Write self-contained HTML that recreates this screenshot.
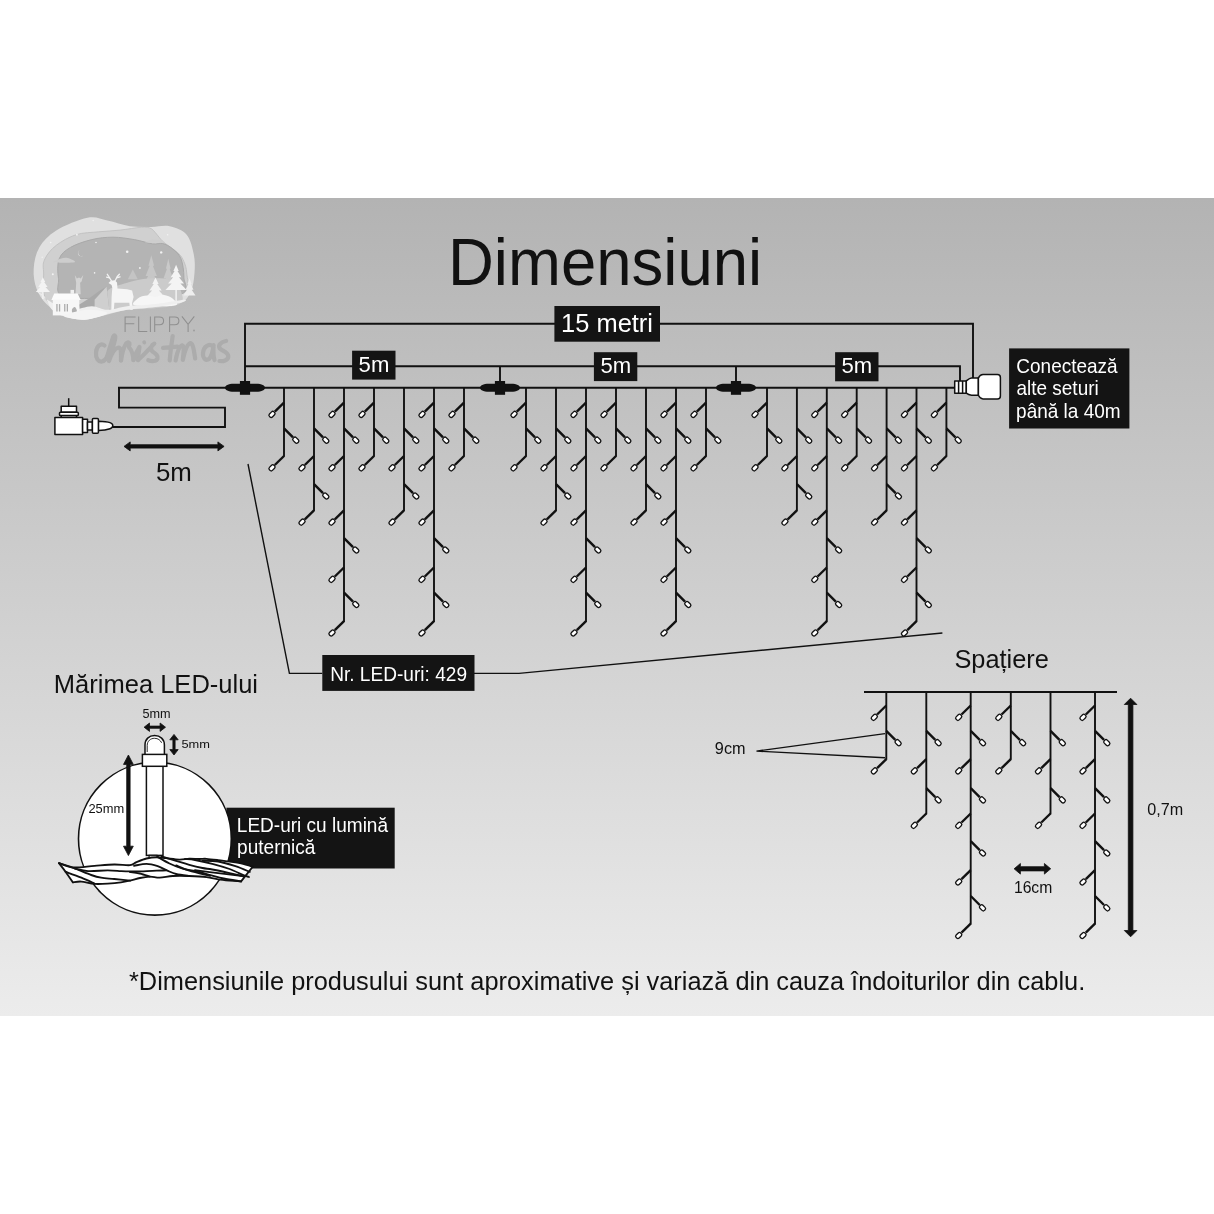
<!DOCTYPE html><html><head><meta charset="utf-8"><style>
html,body{margin:0;padding:0;background:#fff;width:1214px;height:1214px;overflow:hidden}
svg{position:absolute;left:0;top:0;display:block;will-change:transform}
text{font-family:"Liberation Sans", sans-serif}
.w{stroke:#111;stroke-width:1.9;fill:none}
.b{stroke:#111;stroke-width:2.4;fill:none}
.led{fill:#fff;stroke:#111;stroke-width:1.3}
.bx{fill:#141414}
.t{stroke:#111;stroke-width:1.4;fill:none}
</style></head><body>
<svg width="1214" height="1214" viewBox="0 0 1214 1214">
<defs><linearGradient id="bg" x1="0" y1="0" x2="0" y2="1"><stop offset="0" stop-color="#b3b3b3"/><stop offset="1" stop-color="#ececec"/></linearGradient></defs>
<rect x="0" y="198" width="1214" height="818" fill="url(#bg)"/>
<g id="logo">
<path d="M33.7 268.7 C34.1 261.8 35.6 253.8 39.3 247.4 C43.1 241.0 48.3 235.4 56.3 230.4 C64.4 225.5 79.0 219.3 87.5 217.7 C96.0 216.0 100.3 219.1 107.3 220.5 C114.4 221.9 122.7 225.1 130.0 226.2 C137.3 227.2 144.7 226.9 151.3 226.9 C157.9 226.9 163.8 224.9 169.7 226.2 C175.6 227.5 182.7 229.9 186.7 234.7 C190.7 239.4 192.5 248.1 193.8 254.5 C195.1 260.9 195.0 266.8 194.5 272.9 C194.0 279.1 193.2 286.4 190.9 291.3 C188.7 296.3 186.9 300.1 181.0 302.7 C175.1 305.3 164.5 305.7 155.5 306.9 C146.5 308.1 136.6 308.1 127.2 309.8 C117.7 311.4 106.4 315.2 98.8 316.8 C91.3 318.5 87.7 319.9 81.8 319.7 C75.9 319.4 69.3 318.0 63.4 315.4 C57.5 312.8 50.9 308.6 46.4 304.1 C41.9 299.6 38.6 294.4 36.5 288.5 C34.4 282.6 33.2 275.5 33.7 268.7 Z" fill="#e0e0e0" />
<path d="M43.6 271.9 C42.9 264.6 42.9 263.2 45.0 258.8 C47.1 254.3 51.1 249.3 56.3 245.3 C61.5 241.3 69.1 236.9 76.2 234.7 C83.3 232.4 91.5 232.6 98.8 231.8 C106.2 231.1 113.0 230.9 120.1 230.1 C127.2 229.4 136.2 227.5 141.3 227.3 C146.5 227.1 148.3 227.1 151.3 228.7 C154.2 230.4 156.9 234.9 159.1 237.2 C161.2 239.5 160.8 239.8 164.0 242.5 C167.2 245.1 174.9 249.9 178.2 253.1 C181.5 256.3 182.4 258.3 183.9 261.6 C185.3 264.9 186.4 268.0 186.7 272.9 C186.9 277.9 190.5 286.4 185.3 291.3 C180.1 296.3 169.9 299.6 155.5 302.7 C141.1 305.7 116.6 309.8 98.8 309.8 C81.1 309.8 58.5 309.0 49.3 302.7 C40.0 296.4 44.3 279.3 43.6 271.9 Z" fill="#d0d0d0" stroke="#c0c0c0" stroke-width="0.9"/>
<path d="M58.5 278.6 C57.5 272.2 57.2 264.0 59.2 258.8 C61.2 253.6 65.1 250.6 70.5 247.4 C75.9 244.2 84.7 241.3 91.8 239.6 C98.8 237.9 105.9 237.2 113.0 237.2 C120.1 237.2 127.7 238.5 134.3 239.6 C140.9 240.7 148.0 243.2 152.7 243.9 C157.4 244.5 159.3 242.6 162.6 243.5 C165.9 244.3 169.4 246.3 172.5 248.8 C175.6 251.4 179.1 254.0 181.0 258.8 C182.9 263.5 183.9 271.3 183.9 277.2 C183.9 283.1 190.5 290.9 181.0 294.2 C171.6 297.5 146.5 296.5 127.2 297.0 C107.8 297.5 76.3 300.1 64.8 297.0 C53.4 293.9 59.4 285.0 58.5 278.6 Z" fill="#b4b4b4" stroke="#a9a9a9" stroke-width="1"/>
<path d="M54.2 262.3 C51.9 261.7 58.3 259.5 60.6 258.8 C62.8 258.0 65.3 257.5 67.7 258.0 C70.0 258.6 77.0 261.6 74.8 262.3 C72.5 263.0 56.6 262.9 54.2 262.3 Z" fill="#cdcdcd" />
<path d="M145.6 242.5 C143.7 242.0 150.3 240.0 152.7 239.6 C155.0 239.3 157.9 239.9 159.8 240.3 C161.7 240.8 166.4 242.1 164.0 242.5 C161.7 242.8 147.5 242.9 145.6 242.5 Z" fill="#cdcdcd" />
<path d="M79.7 250.3 a3.2 3.2 0 1 0 3.6 5.2 a2.6 2.6 0 1 1 -3.6 -5.2 Z" fill="#e4e4e4"/>
<circle cx="127.2" cy="251.7" r="1.3" fill="#f2f2f2"/>
<circle cx="161.2" cy="252.4" r="1.2" fill="#f2f2f2"/>
<circle cx="96.0" cy="242.5" r="0.8" fill="#f2f2f2"/>
<circle cx="76.9" cy="234.7" r="0.9" fill="#f2f2f2"/>
<circle cx="50.7" cy="242.5" r="0.8" fill="#f2f2f2"/>
<circle cx="42.2" cy="257.3" r="0.7" fill="#f2f2f2"/>
<circle cx="52.8" cy="274.3" r="1.0" fill="#f2f2f2"/>
<circle cx="94.6" cy="272.9" r="0.8" fill="#f2f2f2"/>
<circle cx="139.9" cy="268.0" r="0.9" fill="#f2f2f2"/>
<circle cx="167.6" cy="234.7" r="0.8" fill="#f2f2f2"/>
<circle cx="93.2" cy="220.5" r="0.7" fill="#f2f2f2"/>
<path d="M132.8 269.4 L127.9 279.3 L137.8 279.3 Z" fill="#c4c4c4"/>
<path d="M151.3 255.2 L148.4 265.7 L149.7 265.7 L145.6 276.1 L148.1 276.1 L142.8 286.6 L146.6 286.6 L139.9 297.0 L162.6 297.0 L155.9 286.6 L159.8 286.6 L154.4 276.1 L156.9 276.1 L152.8 265.7 L154.1 265.7 Z" fill="#c7c7c7"/>
<path d="M168.3 258.8 L165.9 268.7 L167.0 268.7 L163.5 278.6 L165.7 278.6 L161.2 288.5 L175.4 288.5 L170.9 278.6 L173.0 278.6 L169.6 268.7 L170.6 268.7 Z" fill="#c9c9c9"/>
<path d="M107.3 291.3 C109.7 287.1 120.3 285.0 127.2 282.8 C134.0 280.7 141.3 279.1 148.4 278.6 C155.5 278.1 164.3 277.9 169.7 280.0 C175.1 282.1 180.1 287.1 181.0 291.3 C182.0 295.6 186.7 302.7 175.4 305.5 C164.0 308.3 124.3 310.7 113.0 308.3 C101.7 306.0 105.0 295.6 107.3 291.3 Z" fill="#cbcbcb" />
<path d="M74.8 275.0 L76.9 278.6 L79.0 277.5 L80.7 278.6 L83.3 275.0 L81.6 281.4 L80.1 282.8 L80.7 294.2 L75.5 294.2 L76.2 282.8 Z" fill="#d3d3d3"/>
<path d="M79.0 304.8 L88.9 298.4 L98.8 291.3 L106.6 286.4 L109.5 311.2 L80.4 311.2 Z" fill="#a9a9a9"/>
<path d="M94.6 299.8 L106.6 286.4 L109.5 311.2 L94.6 311.2 Z" fill="#cfcfcf"/>
<path d="M42.9 277.2 L40.5 282.1 L41.6 282.1 L38.2 287.1 L40.3 287.1 L35.8 292.1 L50.0 292.1 L45.5 287.1 L47.6 287.1 L44.2 282.1 L45.2 282.1 Z" fill="#f3f3f3"/><path d="M42.2 292.1 L43.6 292.1 L43.6 299.1 L42.2 299.1 Z" fill="#f3f3f3"/>
<path d="M155.5 277.5 L152.4 284.0 L153.8 284.0 L149.4 290.5 L152.1 290.5 L146.3 297.0 L164.7 297.0 L158.9 290.5 L161.7 290.5 L157.2 284.0 L158.6 284.0 Z" fill="#f3f3f3"/><path d="M154.8 297.0 L156.2 297.0 L156.2 302.7 L154.8 302.7 Z" fill="#f3f3f3"/>
<path d="M176.1 264.7 L173.4 271.0 L174.6 271.0 L170.7 277.3 L173.1 277.3 L168.1 283.6 L171.7 283.6 L165.4 289.9 L186.7 289.9 L180.4 283.6 L184.0 283.6 L179.0 277.3 L181.4 277.3 L177.5 271.0 L178.7 271.0 Z" fill="#f4f4f4"/><path d="M175.4 289.9 L176.8 289.9 L176.8 302.7 L175.4 302.7 Z" fill="#f4f4f4"/>
<path d="M189.5 278.3 L187.5 284.1 L188.4 284.1 L185.5 289.8 L187.3 289.8 L183.5 295.6 L195.5 295.6 L191.7 289.8 L193.5 289.8 L190.6 284.1 L191.5 284.1 Z" fill="#eeeeee"/>
<path d="M135.7 305.5 C129.5 304.3 135.9 300.1 137.8 298.4 C139.7 296.8 144.1 295.8 147.0 295.6 C150.0 295.4 152.7 297.1 155.5 297.0 C158.3 296.9 161.2 294.6 164.0 294.9 C166.8 295.1 170.7 296.7 172.5 298.4 C174.3 300.2 180.8 304.3 174.6 305.5 C168.5 306.7 141.8 306.7 135.7 305.5 Z" fill="#f6f6f6" />
<path d="M108.5 283.1 L110.9 280.7 L114.7 280.3 L117.0 282.6 L117.5 288.5 L127.2 289.2 L132.1 290.6 L133.6 297.0 L132.1 302.7 L132.8 309.8 L130.3 309.8 L129.3 302.7 L114.4 302.7 L113.7 311.2 L111.3 311.2 L111.6 297.0 L112.3 287.8 L111.6 285.0 Z" fill="#f5f5f5"/>
<path d="M111.6 281.1 L108.8 276.5 L107.3 274.3" fill="none" stroke="#f2f2f2" stroke-width="1.3" stroke-linecap="round"/>
<path d="M109.5 277.9 L106.6 277.2" fill="none" stroke="#f2f2f2" stroke-width="1.3" stroke-linecap="round"/>
<path d="M115.1 280.7 L117.3 276.5 L119.4 274.3" fill="none" stroke="#f2f2f2" stroke-width="1.3" stroke-linecap="round"/>
<path d="M117.5 277.5 L120.1 276.9" fill="none" stroke="#f2f2f2" stroke-width="1.3" stroke-linecap="round"/>
<path d="M36.5 291.3 C35.3 290.4 42.4 293.9 45.0 297.0 C47.6 300.1 49.0 306.6 52.1 309.8 C55.2 312.9 58.0 314.5 63.4 316.1 C68.9 317.8 77.4 320.0 84.7 319.7 C92.0 319.3 100.3 315.7 107.3 314.0 C114.4 312.4 119.1 310.9 127.2 309.8 C135.2 308.6 146.5 308.1 155.5 306.9 C164.5 305.7 176.3 303.9 181.0 302.7 C185.7 301.5 188.1 299.6 183.9 299.8 C179.6 300.1 165.0 303.0 155.5 304.1 C146.1 305.2 135.2 305.3 127.2 306.2 C119.1 307.2 113.2 309.8 107.3 309.8 C101.4 309.8 97.9 306.2 91.8 306.2 C85.6 306.2 77.1 310.4 70.5 309.8 C63.9 309.2 57.8 305.7 52.1 302.7 C46.4 299.6 37.7 292.3 36.5 291.3 Z" fill="#efefef" />
<path d="M51.4 300.1 L54.2 293.5 L77.6 293.5 L80.7 300.1 Z" fill="#fbfbfb"/>
<path d="M70.5 293.9 L70.5 289.9 L74.0 289.9 L74.0 293.9 Z" fill="#f0f0f0"/>
<path d="M52.8 299.8 L79.3 299.8 L79.3 315.4 L52.8 315.4 Z" fill="#f6f6f6"/>
<path d="M56.3 304.1 L57.6 304.1 L57.6 311.5 L56.3 311.5 Z" fill="#acacac"/>
<path d="M58.9 304.1 L60.2 304.1 L60.2 311.5 L58.9 311.5 Z" fill="#acacac"/>
<path d="M64.1 304.1 L65.4 304.1 L65.4 311.5 L64.1 311.5 Z" fill="#acacac"/>
<path d="M66.7 304.1 L68.0 304.1 L68.0 311.5 L66.7 311.5 Z" fill="#acacac"/>
<path d="M73.3 315.4 C72.5 315.2 71.7 311.2 71.9 309.8 C72.2 308.3 73.9 306.7 74.8 306.9 C75.6 307.2 77.1 309.8 76.9 311.2 C76.6 312.6 74.2 315.7 73.3 315.4 Z" fill="#b0b0b0" />
<path d="M63.4 316.1 C62.2 314.7 72.9 312.2 77.6 311.2 C82.3 310.1 86.8 309.4 91.8 309.8 C96.7 310.1 108.5 311.7 107.3 313.3 C106.2 315.0 92.0 319.2 84.7 319.7 C77.4 320.2 64.6 317.6 63.4 316.1 Z" fill="#f4f4f4" />
</g>
<g fill="none" stroke="#8f8f8f" stroke-width="1.05">
<path d="M125.1 332 L125.1 316.9 L135.6 316.9 M125.1 323.8 L134.3 323.8"/>
<path d="M138.7 316.4 L138.7 331.5 L147.3 331.5"/>
<path d="M150.4 316.4 L150.4 332"/>
<path d="M154.7 332 L154.7 316.9 L159.5 316.9 C162 316.9 163.6 318.5 163.6 320.8 C163.6 323.2 162 324.8 159.5 324.8 L154.7 324.8"/>
<path d="M169.6 332 L169.6 316.9 L174.8 316.9 C177.3 316.9 178.9 318.5 178.9 320.8 C178.9 323.2 177.3 324.8 174.8 324.8 L169.6 324.8"/>
<path d="M181.9 316.4 L188.1 324.4 L194.3 316.4 M188.1 324.4 L188.1 332"/>
</g>
<circle cx="194" cy="330.5" r="0.9" fill="#9a9a9a"/>
<g fill="none" stroke="#acacac" stroke-width="4.2" stroke-linecap="round" stroke-linejoin="round">
<path d="M104.5 345.5 C101 342.5 96.5 346 96 352.5 C95.5 358.5 98.5 362 102 361.5 C104.5 361 106 359 107 357"/>
<path d="M107 357 C109 350 111.5 342 113 337.5 C114 334 116 335.5 115 339.5 C113.5 346 111 354 109 361 C111.5 354 115 348 118.5 347.5 C121.5 347.5 121 353 121 360.5"/>
<path d="M121 360.5 C122 354 123.5 348 125.5 344.5 C126.5 342.5 129 341.5 129.5 343.5 C130 345 127.5 347 130 348.5 C132 351 133 355 133.5 360"/>
<path d="M133.5 360 C135 355 137.5 350 139.5 347 C138.8 352 138 356 138 360"/>
<path d="M144.2 342.3 L144.3 342.5" stroke-width="3.8"/>
<path d="M138 360 C143 356 149 349 154.3 343.6 C151 345 150 349.5 152.5 351.5 C156 354 158.4 355.5 157.5 358.5 C156.5 361.5 151.5 361.5 148.3 360.2"/>
<path d="M172.7 336 C171.5 344 170.3 352 169.7 360.5 M163 347.8 L177.4 346.6"/>
<path d="M175.6 360.5 C177 353 179 346 182.2 345.4 C184.5 346 183.3 354 182.8 360 C184.5 352 187 344 190.5 343 C193.5 344 194 352 195.2 358.5"/>
<path d="M212.5 346 C209 343 203.5 346.5 203 353 C202.5 358.5 206 361 209 359 C211.5 356.5 213 350 213.6 345 C213.3 351 213 356 214.5 360"/>
<path d="M226.1 341 C221 342 218 345 219.5 348 C221.5 351 228.5 352 228.3 356.5 C228 360.5 223 361.5 219.5 361"/>
</g>

<text transform="translate(447.99 285) scale(1 1.039)" font-size="63.53" fill="#111" >Dimensiuni</text>
<polyline points="245,388 245,323.8 973,323.8 973,378" class="w"/>
<polyline points="245,366.2 960,366.2 960,381" class="w"/>
<line x1="500" y1="366.2" x2="500" y2="381" class="w"/>
<line x1="736" y1="366.2" x2="736" y2="381" class="w"/>
<rect x="554.4" y="306" width="105.60" height="35.70" class="bx"/>
<text transform="translate(561.06 331.7) scale(1 1.039)" font-size="25.46" fill="#fff" >15 metri</text>
<rect x="352.1" y="350.7" width="43.40" height="28.90" class="bx"/>
<text x="358.62" y="371.7" font-size="22.1" fill="#fff" >5m</text>
<rect x="593.9" y="352.2" width="43.40" height="28.90" class="bx"/>
<text x="600.42" y="372.9" font-size="22.1" fill="#fff" >5m</text>
<rect x="835.1" y="352.2" width="43.40" height="29.10" class="bx"/>
<text x="841.42" y="372.9" font-size="22.1" fill="#fff" >5m</text>
<line x1="118" y1="387.8" x2="955" y2="387.8" class="w"/>
<polyline points="119,387.8 119,407.6 225,407.6 225,427 112,427" class="w"/>
<path d="M225 387.8 C225 385.6 228 383.8 234 383.8 L256 383.8 C262 383.8 265 385.6 265 387.8 C265 390.0 262 391.8 256 391.8 L234 391.8 C228 391.8 225 390.0 225 387.8 Z" fill="#111"/><rect x="239.9" y="381" width="10.2" height="13.8" fill="#111"/>
<path d="M480 387.8 C480 385.6 483 383.8 489 383.8 L511 383.8 C517 383.8 520 385.6 520 387.8 C520 390.0 517 391.8 511 391.8 L489 391.8 C483 391.8 480 390.0 480 387.8 Z" fill="#111"/><rect x="494.9" y="381" width="10.2" height="13.8" fill="#111"/>
<path d="M716 387.8 C716 385.6 719 383.8 725 383.8 L747 383.8 C753 383.8 756 385.6 756 387.8 C756 390.0 753 391.8 747 391.8 L725 391.8 C719 391.8 716 390.0 716 387.8 Z" fill="#111"/><rect x="730.9" y="381" width="10.2" height="13.8" fill="#111"/>
<line x1="284" y1="388" x2="284" y2="456.70" class="w"/>
<line x1="284" y1="402.60" x2="274.80" y2="411.60" class="b"/>
<rect x="268.80" y="412.30" width="6.4" height="4.2" rx="1.7" transform="rotate(135 272.00 414.40)" class="led"/>
<line x1="284" y1="428.40" x2="293.00" y2="437.40" class="b"/>
<rect x="292.60" y="438.10" width="6.4" height="4.2" rx="1.7" transform="rotate(45 295.80 440.20)" class="led"/>
<line x1="284" y1="456.00" x2="274.80" y2="465.00" class="b"/>
<rect x="268.80" y="465.70" width="6.4" height="4.2" rx="1.7" transform="rotate(135 272.00 467.80)" class="led"/>
<line x1="314" y1="388" x2="314" y2="511.00" class="w"/>
<line x1="314" y1="428.40" x2="323.00" y2="437.40" class="b"/>
<rect x="322.60" y="438.10" width="6.4" height="4.2" rx="1.7" transform="rotate(45 325.80 440.20)" class="led"/>
<line x1="314" y1="456.00" x2="304.80" y2="465.00" class="b"/>
<rect x="298.80" y="465.70" width="6.4" height="4.2" rx="1.7" transform="rotate(135 302.00 467.80)" class="led"/>
<line x1="314" y1="484.20" x2="323.00" y2="493.20" class="b"/>
<rect x="322.60" y="493.90" width="6.4" height="4.2" rx="1.7" transform="rotate(45 325.80 496.00)" class="led"/>
<line x1="314" y1="510.30" x2="304.80" y2="519.30" class="b"/>
<rect x="298.80" y="520.00" width="6.4" height="4.2" rx="1.7" transform="rotate(135 302.00 522.10)" class="led"/>
<line x1="344" y1="388" x2="344" y2="621.90" class="w"/>
<line x1="344" y1="402.60" x2="334.80" y2="411.60" class="b"/>
<rect x="328.80" y="412.30" width="6.4" height="4.2" rx="1.7" transform="rotate(135 332.00 414.40)" class="led"/>
<line x1="344" y1="428.40" x2="353.00" y2="437.40" class="b"/>
<rect x="352.60" y="438.10" width="6.4" height="4.2" rx="1.7" transform="rotate(45 355.80 440.20)" class="led"/>
<line x1="344" y1="456.00" x2="334.80" y2="465.00" class="b"/>
<rect x="328.80" y="465.70" width="6.4" height="4.2" rx="1.7" transform="rotate(135 332.00 467.80)" class="led"/>
<line x1="344" y1="510.30" x2="334.80" y2="519.30" class="b"/>
<rect x="328.80" y="520.00" width="6.4" height="4.2" rx="1.7" transform="rotate(135 332.00 522.10)" class="led"/>
<line x1="344" y1="538.20" x2="353.00" y2="547.20" class="b"/>
<rect x="352.60" y="547.90" width="6.4" height="4.2" rx="1.7" transform="rotate(45 355.80 550.00)" class="led"/>
<line x1="344" y1="567.50" x2="334.80" y2="576.50" class="b"/>
<rect x="328.80" y="577.20" width="6.4" height="4.2" rx="1.7" transform="rotate(135 332.00 579.30)" class="led"/>
<line x1="344" y1="592.70" x2="353.00" y2="601.70" class="b"/>
<rect x="352.60" y="602.40" width="6.4" height="4.2" rx="1.7" transform="rotate(45 355.80 604.50)" class="led"/>
<line x1="344" y1="621.20" x2="334.80" y2="630.20" class="b"/>
<rect x="328.80" y="630.90" width="6.4" height="4.2" rx="1.7" transform="rotate(135 332.00 633.00)" class="led"/>
<line x1="374" y1="388" x2="374" y2="456.70" class="w"/>
<line x1="374" y1="402.60" x2="364.80" y2="411.60" class="b"/>
<rect x="358.80" y="412.30" width="6.4" height="4.2" rx="1.7" transform="rotate(135 362.00 414.40)" class="led"/>
<line x1="374" y1="428.40" x2="383.00" y2="437.40" class="b"/>
<rect x="382.60" y="438.10" width="6.4" height="4.2" rx="1.7" transform="rotate(45 385.80 440.20)" class="led"/>
<line x1="374" y1="456.00" x2="364.80" y2="465.00" class="b"/>
<rect x="358.80" y="465.70" width="6.4" height="4.2" rx="1.7" transform="rotate(135 362.00 467.80)" class="led"/>
<line x1="404" y1="388" x2="404" y2="511.00" class="w"/>
<line x1="404" y1="428.40" x2="413.00" y2="437.40" class="b"/>
<rect x="412.60" y="438.10" width="6.4" height="4.2" rx="1.7" transform="rotate(45 415.80 440.20)" class="led"/>
<line x1="404" y1="456.00" x2="394.80" y2="465.00" class="b"/>
<rect x="388.80" y="465.70" width="6.4" height="4.2" rx="1.7" transform="rotate(135 392.00 467.80)" class="led"/>
<line x1="404" y1="484.20" x2="413.00" y2="493.20" class="b"/>
<rect x="412.60" y="493.90" width="6.4" height="4.2" rx="1.7" transform="rotate(45 415.80 496.00)" class="led"/>
<line x1="404" y1="510.30" x2="394.80" y2="519.30" class="b"/>
<rect x="388.80" y="520.00" width="6.4" height="4.2" rx="1.7" transform="rotate(135 392.00 522.10)" class="led"/>
<line x1="434" y1="388" x2="434" y2="621.90" class="w"/>
<line x1="434" y1="402.60" x2="424.80" y2="411.60" class="b"/>
<rect x="418.80" y="412.30" width="6.4" height="4.2" rx="1.7" transform="rotate(135 422.00 414.40)" class="led"/>
<line x1="434" y1="428.40" x2="443.00" y2="437.40" class="b"/>
<rect x="442.60" y="438.10" width="6.4" height="4.2" rx="1.7" transform="rotate(45 445.80 440.20)" class="led"/>
<line x1="434" y1="456.00" x2="424.80" y2="465.00" class="b"/>
<rect x="418.80" y="465.70" width="6.4" height="4.2" rx="1.7" transform="rotate(135 422.00 467.80)" class="led"/>
<line x1="434" y1="510.30" x2="424.80" y2="519.30" class="b"/>
<rect x="418.80" y="520.00" width="6.4" height="4.2" rx="1.7" transform="rotate(135 422.00 522.10)" class="led"/>
<line x1="434" y1="538.20" x2="443.00" y2="547.20" class="b"/>
<rect x="442.60" y="547.90" width="6.4" height="4.2" rx="1.7" transform="rotate(45 445.80 550.00)" class="led"/>
<line x1="434" y1="567.50" x2="424.80" y2="576.50" class="b"/>
<rect x="418.80" y="577.20" width="6.4" height="4.2" rx="1.7" transform="rotate(135 422.00 579.30)" class="led"/>
<line x1="434" y1="592.70" x2="443.00" y2="601.70" class="b"/>
<rect x="442.60" y="602.40" width="6.4" height="4.2" rx="1.7" transform="rotate(45 445.80 604.50)" class="led"/>
<line x1="434" y1="621.20" x2="424.80" y2="630.20" class="b"/>
<rect x="418.80" y="630.90" width="6.4" height="4.2" rx="1.7" transform="rotate(135 422.00 633.00)" class="led"/>
<line x1="464" y1="388" x2="464" y2="456.70" class="w"/>
<line x1="464" y1="402.60" x2="454.80" y2="411.60" class="b"/>
<rect x="448.80" y="412.30" width="6.4" height="4.2" rx="1.7" transform="rotate(135 452.00 414.40)" class="led"/>
<line x1="464" y1="428.40" x2="473.00" y2="437.40" class="b"/>
<rect x="472.60" y="438.10" width="6.4" height="4.2" rx="1.7" transform="rotate(45 475.80 440.20)" class="led"/>
<line x1="464" y1="456.00" x2="454.80" y2="465.00" class="b"/>
<rect x="448.80" y="465.70" width="6.4" height="4.2" rx="1.7" transform="rotate(135 452.00 467.80)" class="led"/>
<line x1="526" y1="388" x2="526" y2="456.70" class="w"/>
<line x1="526" y1="402.60" x2="516.80" y2="411.60" class="b"/>
<rect x="510.80" y="412.30" width="6.4" height="4.2" rx="1.7" transform="rotate(135 514.00 414.40)" class="led"/>
<line x1="526" y1="428.40" x2="535.00" y2="437.40" class="b"/>
<rect x="534.60" y="438.10" width="6.4" height="4.2" rx="1.7" transform="rotate(45 537.80 440.20)" class="led"/>
<line x1="526" y1="456.00" x2="516.80" y2="465.00" class="b"/>
<rect x="510.80" y="465.70" width="6.4" height="4.2" rx="1.7" transform="rotate(135 514.00 467.80)" class="led"/>
<line x1="556" y1="388" x2="556" y2="511.00" class="w"/>
<line x1="556" y1="428.40" x2="565.00" y2="437.40" class="b"/>
<rect x="564.60" y="438.10" width="6.4" height="4.2" rx="1.7" transform="rotate(45 567.80 440.20)" class="led"/>
<line x1="556" y1="456.00" x2="546.80" y2="465.00" class="b"/>
<rect x="540.80" y="465.70" width="6.4" height="4.2" rx="1.7" transform="rotate(135 544.00 467.80)" class="led"/>
<line x1="556" y1="484.20" x2="565.00" y2="493.20" class="b"/>
<rect x="564.60" y="493.90" width="6.4" height="4.2" rx="1.7" transform="rotate(45 567.80 496.00)" class="led"/>
<line x1="556" y1="510.30" x2="546.80" y2="519.30" class="b"/>
<rect x="540.80" y="520.00" width="6.4" height="4.2" rx="1.7" transform="rotate(135 544.00 522.10)" class="led"/>
<line x1="586" y1="388" x2="586" y2="621.90" class="w"/>
<line x1="586" y1="402.60" x2="576.80" y2="411.60" class="b"/>
<rect x="570.80" y="412.30" width="6.4" height="4.2" rx="1.7" transform="rotate(135 574.00 414.40)" class="led"/>
<line x1="586" y1="428.40" x2="595.00" y2="437.40" class="b"/>
<rect x="594.60" y="438.10" width="6.4" height="4.2" rx="1.7" transform="rotate(45 597.80 440.20)" class="led"/>
<line x1="586" y1="456.00" x2="576.80" y2="465.00" class="b"/>
<rect x="570.80" y="465.70" width="6.4" height="4.2" rx="1.7" transform="rotate(135 574.00 467.80)" class="led"/>
<line x1="586" y1="510.30" x2="576.80" y2="519.30" class="b"/>
<rect x="570.80" y="520.00" width="6.4" height="4.2" rx="1.7" transform="rotate(135 574.00 522.10)" class="led"/>
<line x1="586" y1="538.20" x2="595.00" y2="547.20" class="b"/>
<rect x="594.60" y="547.90" width="6.4" height="4.2" rx="1.7" transform="rotate(45 597.80 550.00)" class="led"/>
<line x1="586" y1="567.50" x2="576.80" y2="576.50" class="b"/>
<rect x="570.80" y="577.20" width="6.4" height="4.2" rx="1.7" transform="rotate(135 574.00 579.30)" class="led"/>
<line x1="586" y1="592.70" x2="595.00" y2="601.70" class="b"/>
<rect x="594.60" y="602.40" width="6.4" height="4.2" rx="1.7" transform="rotate(45 597.80 604.50)" class="led"/>
<line x1="586" y1="621.20" x2="576.80" y2="630.20" class="b"/>
<rect x="570.80" y="630.90" width="6.4" height="4.2" rx="1.7" transform="rotate(135 574.00 633.00)" class="led"/>
<line x1="616" y1="388" x2="616" y2="456.70" class="w"/>
<line x1="616" y1="402.60" x2="606.80" y2="411.60" class="b"/>
<rect x="600.80" y="412.30" width="6.4" height="4.2" rx="1.7" transform="rotate(135 604.00 414.40)" class="led"/>
<line x1="616" y1="428.40" x2="625.00" y2="437.40" class="b"/>
<rect x="624.60" y="438.10" width="6.4" height="4.2" rx="1.7" transform="rotate(45 627.80 440.20)" class="led"/>
<line x1="616" y1="456.00" x2="606.80" y2="465.00" class="b"/>
<rect x="600.80" y="465.70" width="6.4" height="4.2" rx="1.7" transform="rotate(135 604.00 467.80)" class="led"/>
<line x1="646" y1="388" x2="646" y2="511.00" class="w"/>
<line x1="646" y1="428.40" x2="655.00" y2="437.40" class="b"/>
<rect x="654.60" y="438.10" width="6.4" height="4.2" rx="1.7" transform="rotate(45 657.80 440.20)" class="led"/>
<line x1="646" y1="456.00" x2="636.80" y2="465.00" class="b"/>
<rect x="630.80" y="465.70" width="6.4" height="4.2" rx="1.7" transform="rotate(135 634.00 467.80)" class="led"/>
<line x1="646" y1="484.20" x2="655.00" y2="493.20" class="b"/>
<rect x="654.60" y="493.90" width="6.4" height="4.2" rx="1.7" transform="rotate(45 657.80 496.00)" class="led"/>
<line x1="646" y1="510.30" x2="636.80" y2="519.30" class="b"/>
<rect x="630.80" y="520.00" width="6.4" height="4.2" rx="1.7" transform="rotate(135 634.00 522.10)" class="led"/>
<line x1="676" y1="388" x2="676" y2="621.90" class="w"/>
<line x1="676" y1="402.60" x2="666.80" y2="411.60" class="b"/>
<rect x="660.80" y="412.30" width="6.4" height="4.2" rx="1.7" transform="rotate(135 664.00 414.40)" class="led"/>
<line x1="676" y1="428.40" x2="685.00" y2="437.40" class="b"/>
<rect x="684.60" y="438.10" width="6.4" height="4.2" rx="1.7" transform="rotate(45 687.80 440.20)" class="led"/>
<line x1="676" y1="456.00" x2="666.80" y2="465.00" class="b"/>
<rect x="660.80" y="465.70" width="6.4" height="4.2" rx="1.7" transform="rotate(135 664.00 467.80)" class="led"/>
<line x1="676" y1="510.30" x2="666.80" y2="519.30" class="b"/>
<rect x="660.80" y="520.00" width="6.4" height="4.2" rx="1.7" transform="rotate(135 664.00 522.10)" class="led"/>
<line x1="676" y1="538.20" x2="685.00" y2="547.20" class="b"/>
<rect x="684.60" y="547.90" width="6.4" height="4.2" rx="1.7" transform="rotate(45 687.80 550.00)" class="led"/>
<line x1="676" y1="567.50" x2="666.80" y2="576.50" class="b"/>
<rect x="660.80" y="577.20" width="6.4" height="4.2" rx="1.7" transform="rotate(135 664.00 579.30)" class="led"/>
<line x1="676" y1="592.70" x2="685.00" y2="601.70" class="b"/>
<rect x="684.60" y="602.40" width="6.4" height="4.2" rx="1.7" transform="rotate(45 687.80 604.50)" class="led"/>
<line x1="676" y1="621.20" x2="666.80" y2="630.20" class="b"/>
<rect x="660.80" y="630.90" width="6.4" height="4.2" rx="1.7" transform="rotate(135 664.00 633.00)" class="led"/>
<line x1="706" y1="388" x2="706" y2="456.70" class="w"/>
<line x1="706" y1="402.60" x2="696.80" y2="411.60" class="b"/>
<rect x="690.80" y="412.30" width="6.4" height="4.2" rx="1.7" transform="rotate(135 694.00 414.40)" class="led"/>
<line x1="706" y1="428.40" x2="715.00" y2="437.40" class="b"/>
<rect x="714.60" y="438.10" width="6.4" height="4.2" rx="1.7" transform="rotate(45 717.80 440.20)" class="led"/>
<line x1="706" y1="456.00" x2="696.80" y2="465.00" class="b"/>
<rect x="690.80" y="465.70" width="6.4" height="4.2" rx="1.7" transform="rotate(135 694.00 467.80)" class="led"/>
<line x1="767.0" y1="388" x2="767.0" y2="456.70" class="w"/>
<line x1="767.0" y1="402.60" x2="757.80" y2="411.60" class="b"/>
<rect x="751.80" y="412.30" width="6.4" height="4.2" rx="1.7" transform="rotate(135 755.00 414.40)" class="led"/>
<line x1="767.0" y1="428.40" x2="776.00" y2="437.40" class="b"/>
<rect x="775.60" y="438.10" width="6.4" height="4.2" rx="1.7" transform="rotate(45 778.80 440.20)" class="led"/>
<line x1="767.0" y1="456.00" x2="757.80" y2="465.00" class="b"/>
<rect x="751.80" y="465.70" width="6.4" height="4.2" rx="1.7" transform="rotate(135 755.00 467.80)" class="led"/>
<line x1="796.9" y1="388" x2="796.9" y2="511.00" class="w"/>
<line x1="796.9" y1="428.40" x2="805.90" y2="437.40" class="b"/>
<rect x="805.50" y="438.10" width="6.4" height="4.2" rx="1.7" transform="rotate(45 808.70 440.20)" class="led"/>
<line x1="796.9" y1="456.00" x2="787.70" y2="465.00" class="b"/>
<rect x="781.70" y="465.70" width="6.4" height="4.2" rx="1.7" transform="rotate(135 784.90 467.80)" class="led"/>
<line x1="796.9" y1="484.20" x2="805.90" y2="493.20" class="b"/>
<rect x="805.50" y="493.90" width="6.4" height="4.2" rx="1.7" transform="rotate(45 808.70 496.00)" class="led"/>
<line x1="796.9" y1="510.30" x2="787.70" y2="519.30" class="b"/>
<rect x="781.70" y="520.00" width="6.4" height="4.2" rx="1.7" transform="rotate(135 784.90 522.10)" class="led"/>
<line x1="826.8" y1="388" x2="826.8" y2="621.90" class="w"/>
<line x1="826.8" y1="402.60" x2="817.60" y2="411.60" class="b"/>
<rect x="811.60" y="412.30" width="6.4" height="4.2" rx="1.7" transform="rotate(135 814.80 414.40)" class="led"/>
<line x1="826.8" y1="428.40" x2="835.80" y2="437.40" class="b"/>
<rect x="835.40" y="438.10" width="6.4" height="4.2" rx="1.7" transform="rotate(45 838.60 440.20)" class="led"/>
<line x1="826.8" y1="456.00" x2="817.60" y2="465.00" class="b"/>
<rect x="811.60" y="465.70" width="6.4" height="4.2" rx="1.7" transform="rotate(135 814.80 467.80)" class="led"/>
<line x1="826.8" y1="510.30" x2="817.60" y2="519.30" class="b"/>
<rect x="811.60" y="520.00" width="6.4" height="4.2" rx="1.7" transform="rotate(135 814.80 522.10)" class="led"/>
<line x1="826.8" y1="538.20" x2="835.80" y2="547.20" class="b"/>
<rect x="835.40" y="547.90" width="6.4" height="4.2" rx="1.7" transform="rotate(45 838.60 550.00)" class="led"/>
<line x1="826.8" y1="567.50" x2="817.60" y2="576.50" class="b"/>
<rect x="811.60" y="577.20" width="6.4" height="4.2" rx="1.7" transform="rotate(135 814.80 579.30)" class="led"/>
<line x1="826.8" y1="592.70" x2="835.80" y2="601.70" class="b"/>
<rect x="835.40" y="602.40" width="6.4" height="4.2" rx="1.7" transform="rotate(45 838.60 604.50)" class="led"/>
<line x1="826.8" y1="621.20" x2="817.60" y2="630.20" class="b"/>
<rect x="811.60" y="630.90" width="6.4" height="4.2" rx="1.7" transform="rotate(135 814.80 633.00)" class="led"/>
<line x1="856.7" y1="388" x2="856.7" y2="456.70" class="w"/>
<line x1="856.7" y1="402.60" x2="847.50" y2="411.60" class="b"/>
<rect x="841.50" y="412.30" width="6.4" height="4.2" rx="1.7" transform="rotate(135 844.70 414.40)" class="led"/>
<line x1="856.7" y1="428.40" x2="865.70" y2="437.40" class="b"/>
<rect x="865.30" y="438.10" width="6.4" height="4.2" rx="1.7" transform="rotate(45 868.50 440.20)" class="led"/>
<line x1="856.7" y1="456.00" x2="847.50" y2="465.00" class="b"/>
<rect x="841.50" y="465.70" width="6.4" height="4.2" rx="1.7" transform="rotate(135 844.70 467.80)" class="led"/>
<line x1="886.6" y1="388" x2="886.6" y2="511.00" class="w"/>
<line x1="886.6" y1="428.40" x2="895.60" y2="437.40" class="b"/>
<rect x="895.20" y="438.10" width="6.4" height="4.2" rx="1.7" transform="rotate(45 898.40 440.20)" class="led"/>
<line x1="886.6" y1="456.00" x2="877.40" y2="465.00" class="b"/>
<rect x="871.40" y="465.70" width="6.4" height="4.2" rx="1.7" transform="rotate(135 874.60 467.80)" class="led"/>
<line x1="886.6" y1="484.20" x2="895.60" y2="493.20" class="b"/>
<rect x="895.20" y="493.90" width="6.4" height="4.2" rx="1.7" transform="rotate(45 898.40 496.00)" class="led"/>
<line x1="886.6" y1="510.30" x2="877.40" y2="519.30" class="b"/>
<rect x="871.40" y="520.00" width="6.4" height="4.2" rx="1.7" transform="rotate(135 874.60 522.10)" class="led"/>
<line x1="916.5" y1="388" x2="916.5" y2="621.90" class="w"/>
<line x1="916.5" y1="402.60" x2="907.30" y2="411.60" class="b"/>
<rect x="901.30" y="412.30" width="6.4" height="4.2" rx="1.7" transform="rotate(135 904.50 414.40)" class="led"/>
<line x1="916.5" y1="428.40" x2="925.50" y2="437.40" class="b"/>
<rect x="925.10" y="438.10" width="6.4" height="4.2" rx="1.7" transform="rotate(45 928.30 440.20)" class="led"/>
<line x1="916.5" y1="456.00" x2="907.30" y2="465.00" class="b"/>
<rect x="901.30" y="465.70" width="6.4" height="4.2" rx="1.7" transform="rotate(135 904.50 467.80)" class="led"/>
<line x1="916.5" y1="510.30" x2="907.30" y2="519.30" class="b"/>
<rect x="901.30" y="520.00" width="6.4" height="4.2" rx="1.7" transform="rotate(135 904.50 522.10)" class="led"/>
<line x1="916.5" y1="538.20" x2="925.50" y2="547.20" class="b"/>
<rect x="925.10" y="547.90" width="6.4" height="4.2" rx="1.7" transform="rotate(45 928.30 550.00)" class="led"/>
<line x1="916.5" y1="567.50" x2="907.30" y2="576.50" class="b"/>
<rect x="901.30" y="577.20" width="6.4" height="4.2" rx="1.7" transform="rotate(135 904.50 579.30)" class="led"/>
<line x1="916.5" y1="592.70" x2="925.50" y2="601.70" class="b"/>
<rect x="925.10" y="602.40" width="6.4" height="4.2" rx="1.7" transform="rotate(45 928.30 604.50)" class="led"/>
<line x1="916.5" y1="621.20" x2="907.30" y2="630.20" class="b"/>
<rect x="901.30" y="630.90" width="6.4" height="4.2" rx="1.7" transform="rotate(135 904.50 633.00)" class="led"/>
<line x1="946.4" y1="388" x2="946.4" y2="456.70" class="w"/>
<line x1="946.4" y1="402.60" x2="937.20" y2="411.60" class="b"/>
<rect x="931.20" y="412.30" width="6.4" height="4.2" rx="1.7" transform="rotate(135 934.40 414.40)" class="led"/>
<line x1="946.4" y1="428.40" x2="955.40" y2="437.40" class="b"/>
<rect x="955.00" y="438.10" width="6.4" height="4.2" rx="1.7" transform="rotate(45 958.20 440.20)" class="led"/>
<line x1="946.4" y1="456.00" x2="937.20" y2="465.00" class="b"/>
<rect x="931.20" y="465.70" width="6.4" height="4.2" rx="1.7" transform="rotate(135 934.40 467.80)" class="led"/>
<g fill="#fff" stroke="#111" stroke-width="1.5" stroke-linejoin="round">
<line x1="68.7" y1="398.2" x2="68.7" y2="406.2" />
<rect x="61.2" y="415.5" width="15.3" height="2.2"/>
<rect x="61.2" y="406.2" width="15.3" height="6.1"/>
<rect x="59.5" y="412.3" width="18.8" height="3.2" rx="0.8"/>
<rect x="54.9" y="417.5" width="27.7" height="17"/>
<rect x="82.6" y="419.2" width="4.9" height="13.3"/>
<rect x="87.5" y="422.1" width="4.9" height="7.8"/>
<path d="M98.4 421.2 C103 421.3 107 421.5 110 422.6 C112 423.3 112.8 424 112.8 425.5 C112.8 427 112 428 110 428.7 C107 429.8 103 430.4 98.4 430.5 Z"/>
<rect x="92.4" y="418.6" width="6" height="14.7" rx="1"/>
</g>
<path d="M124.0 446.4 L130.2 441.9 L130.2 444.7 L217.9 444.7 L217.9 441.9 L224.1 446.4 L217.9 450.9 L217.9 448.09999999999997 L130.2 448.09999999999997 L130.2 450.9 Z" fill="#111" stroke="#111" stroke-width="0.8" stroke-linejoin="round"/>
<text transform="translate(155.97 481.2) scale(1 0.99)" font-size="25.86" fill="#111" >5m</text>
<g fill="#fff" stroke="#111" stroke-width="1.5" stroke-linejoin="round">
<rect x="954.7" y="380.9" width="11.6" height="12.3"/>
<line x1="958.6" y1="380.9" x2="958.6" y2="393.2"/><line x1="962.6" y1="380.9" x2="962.6" y2="393.2"/>
<path d="M966.3 380.9 C968 379.5 969.5 378 971.5 377.9 L978.4 377.9 L978.4 395.2 L971.5 395.2 C969.5 395 968 394.5 966.3 393.2 Z"/>
<path d="M978.4 377.9 C979.5 375.5 980.5 374.4 983 374.4 L997.4 374.4 Q1000.4 374.4 1000.4 377.4 L1000.4 395.9 Q1000.4 398.9 997.4 398.9 L983 398.9 C980.5 398.9 979.5 397.5 978.4 395.2 Z"/>
</g>
<rect x="1009.1" y="348.4" width="120.30" height="80.10" class="bx"/>
<text transform="translate(1016.35 373.1) scale(1 1.03)" font-size="19.0" fill="#fff" >Conectează</text>
<text transform="translate(1016.45 395.3) scale(1 1.03)" font-size="19.0" fill="#fff" >alte seturi</text>
<text transform="translate(1016.1 418.4) scale(1 1.03)" font-size="19.0" fill="#fff" >până la 40m</text>
<polyline points="248,464 289.4,673.4 322.3,673.4" class="t"/>
<polyline points="474,673.4 519,673.4 942.4,633" class="t"/>
<rect x="322.3" y="655" width="152.20" height="35.90" class="bx"/>
<text transform="translate(330.13 680.7) scale(1 1.027)" font-size="19.11" fill="#fff" >Nr. LED-uri: 429</text>
<text transform="translate(53.81 693.2) scale(1 1.042)" font-size="25.53" fill="#111" >Mărimea LED-ului</text>
<rect x="226.4" y="807.7" width="168.30" height="60.80" class="bx"/>
<text transform="translate(236.8 831.9) scale(1 1.023)" font-size="19.04" fill="#fff" >LED-uri cu lumină</text>
<text transform="translate(237.1 854.1) scale(1 1.023)" font-size="19.04" fill="#fff" >puternică</text>
<circle cx="154.9" cy="838.7" r="76.4" fill="#fff" stroke="#111" stroke-width="1.6"/>
<g fill="#fff" stroke="#111" stroke-width="1.5">
<rect x="146.4" y="766" width="16.6" height="89.4"/>
<path d="M145 754.5 L145 745 C145 739.3 149 735.6 154.6 735.6 C160.2 735.6 164.4 739.3 164.4 745 L164.4 754.5"/>
<path d="M147.2 752 L147.2 745.5 C147.2 741 150.5 738.3 154.6 738.3 C158 738.3 160.5 740.2 161.6 742.8" stroke-width="0.9" fill="none"/>
<rect x="142.4" y="754.4" width="24.4" height="11.9"/>
</g>
<text transform="translate(142.39 717.7) scale(1 0.95)" font-size="12.7" fill="#111" >5mm</text>
<path d="M144.1 727.2 L149.5 723.0 L149.5 726.1 L160.1 726.1 L160.1 723.0 L165.5 727.2 L160.1 731.4000000000001 L160.1 728.3000000000001 L149.5 728.3000000000001 L149.5 731.4000000000001 Z" fill="#111" stroke="#111" stroke-width="0.8" stroke-linejoin="round"/>
<path d="M174 734.4 L169.8 739.8 L172.9 739.8 L172.9 749.6 L169.8 749.6 L174 755.0 L178.2 749.6 L175.1 749.6 L175.1 739.8 L178.2 739.8 Z" fill="#111" stroke="#111" stroke-width="0.8" stroke-linejoin="round"/>
<text transform="translate(181.39 747.6) scale(1 0.92)" font-size="12.84" fill="#111" >5mm</text>
<path d="M128.4 755.0 L123.5 764.4 L126.7 764.4 L126.7 846.2 L123.5 846.2 L128.4 855.6 L133.3 846.2 L130.1 846.2 L130.1 764.4 L133.3 764.4 Z" fill="#111" stroke="#111" stroke-width="0.8" stroke-linejoin="round"/>
<text transform="translate(88.45 812.7) scale(1 0.95)" font-size="12.91" fill="#111" >25mm</text>
<rect x="149.1" y="855.3" width="7.9" height="3" fill="#fff" stroke="#111" stroke-width="1.2"/>
<g fill="none" stroke="#111" stroke-width="1.85" stroke-linecap="round" stroke-linejoin="round">
<path d="M59.0 863.2 C61.3 863.9 66.9 867.1 72.8 867.5 C78.7 867.9 87.6 866.3 94.5 865.8 C101.4 865.3 108.4 864.6 114.3 864.5 C120.2 864.4 126.3 865.6 130.0 865.2 C133.7 864.8 133.8 863.2 136.6 862.1 C139.3 861.0 143.2 859.3 146.5 858.5 C149.8 857.7 153.1 857.2 156.4 857.2 C159.7 857.2 162.4 857.8 166.2 858.2 C170.0 858.6 175.6 859.5 179.4 859.6 C183.2 859.7 186.0 858.8 189.3 858.7 C192.6 858.6 196.3 859.0 199.2 859.0 C202.1 859.0 203.3 858.6 206.5 858.8 C209.7 859.0 214.2 859.6 218.1 860.1 C221.9 860.6 225.8 861.0 229.6 861.5 C233.4 862.0 237.2 862.4 241.1 863.3 C244.9 864.2 250.8 866.1 252.7 866.7 L241.1 881.4 L229.6 880.6 L218.1 879.4 L206.5 877.1 L189.3 876.0 L172.8 876.0 L159.7 877.6 L149.8 876.6 L139.9 878.0 L130.0 880.6 L120.9 882.3 L107.7 883.6 L94.5 883.9 L81.4 881.6 L72.8 882.3 Z" fill="#fff" stroke="none"/>
<path d="M59.0 863.2 C61.3 863.9 66.9 867.1 72.8 867.5 C78.7 867.9 87.6 866.3 94.5 865.8 C101.4 865.3 108.4 864.6 114.3 864.5 C120.2 864.4 126.3 865.6 130.0 865.2 C133.7 864.8 133.8 863.2 136.6 862.1 C139.3 861.0 143.2 859.3 146.5 858.5 C149.8 857.7 153.1 857.2 156.4 857.2 C159.7 857.2 162.4 857.8 166.2 858.2 C170.0 858.6 175.6 859.5 179.4 859.6 C183.2 859.7 186.0 858.8 189.3 858.7 C192.6 858.6 196.3 859.0 199.2 859.0 C202.1 859.0 203.3 858.6 206.5 858.8 C209.7 859.0 214.2 859.6 218.1 860.1 C221.9 860.6 225.8 861.0 229.6 861.5 C233.4 862.0 237.2 862.4 241.1 863.3 C244.9 864.2 250.8 866.1 252.7 866.7"/>
<path d="M72.8 882.3 C74.2 882.2 77.8 881.3 81.4 881.6 C85.0 881.9 90.1 883.6 94.5 883.9 C98.9 884.2 103.3 883.9 107.7 883.6 C112.1 883.3 117.2 882.8 120.9 882.3 C124.6 881.8 126.8 881.3 130.0 880.6 C133.2 879.9 136.6 878.7 139.9 878.0 C143.2 877.3 146.5 876.7 149.8 876.6 C153.1 876.5 155.9 877.7 159.7 877.6 C163.5 877.5 167.9 876.3 172.8 876.0 C177.7 875.7 183.7 875.8 189.3 876.0 C194.9 876.2 201.7 876.5 206.5 877.1 C211.3 877.7 214.2 878.8 218.1 879.4 C221.9 880.0 225.8 880.3 229.6 880.6 C233.4 880.9 239.2 881.3 241.1 881.4"/>
<path d="M59.0 863.2 C60.0 864.6 63.2 868.5 65.5 871.7 C67.8 874.9 71.6 880.5 72.8 882.3"/>
<path d="M252.7 866.7 L241.1 881.4"/>
<path d="M59.0 863.2 C61.6 864.1 69.4 866.5 74.8 868.5 C80.2 870.5 86.8 873.5 91.2 875.0 C95.6 876.5 97.2 877.0 101.1 877.7 C104.9 878.4 109.5 878.5 114.3 879.0 C119.1 879.5 127.4 880.3 130.0 880.6"/>
<path d="M65.5 871.7 C68.2 872.7 76.6 875.7 81.4 877.7 C86.2 879.7 92.3 882.6 94.5 883.6"/>
<path d="M74.8 868.5 C77.0 868.9 82.5 870.8 88.0 871.1 C93.5 871.4 102.2 870.4 107.7 870.4 C113.2 870.4 117.2 870.9 120.9 871.1 C124.6 871.3 126.3 871.4 130.0 871.4 C133.7 871.4 138.8 871.5 143.2 871.4 C147.6 871.3 152.6 870.9 156.4 870.7 C160.2 870.5 164.6 870.5 166.2 870.4"/>
<path d="M130.0 872.0 C131.7 872.2 136.6 872.7 139.9 873.5 C143.2 874.3 148.2 876.1 149.8 876.6"/>
<path d="M134.0 865.8 C136.1 865.5 142.6 863.8 146.5 863.8 C150.4 863.8 154.3 865.0 157.7 866.1 C161.1 867.2 163.8 869.1 166.9 870.4 C170.0 871.7 172.4 873.1 176.1 874.0 C179.8 874.9 187.1 875.7 189.3 876.0"/>
<path d="M157.7 856.9 C159.7 858.0 165.3 861.5 169.5 863.5 C173.7 865.5 178.4 867.5 182.7 868.7 C187.0 870.0 191.1 870.0 195.5 871.0 C199.9 872.0 204.7 873.5 209.4 874.8 C214.1 876.0 218.5 877.4 223.8 878.5 C229.1 879.6 238.2 880.9 241.1 881.4"/>
<path d="M161.6 856.5 C164.0 857.2 171.5 859.4 176.1 860.8 C180.7 862.2 184.9 863.6 189.3 864.8 C193.7 866.0 198.7 867.2 202.5 868.0 C206.3 868.8 207.8 868.6 212.3 869.5 C216.8 870.4 224.3 871.9 229.6 873.1 C234.9 874.3 241.6 875.9 244.0 876.5"/>
<path d="M185.0 859.0 C186.7 859.2 190.4 859.2 195.0 860.0 C199.6 860.8 206.5 862.3 212.3 863.8 C218.1 865.3 224.3 867.1 229.6 869.0 C234.9 870.9 240.8 874.1 244.0 875.4 C247.2 876.7 248.2 876.7 249.0 877.0"/>
<path d="M202.5 860.7 C205.1 860.8 212.6 860.6 218.1 861.5 C223.6 862.4 230.1 864.4 235.4 866.1 C240.7 867.8 247.4 870.9 249.8 871.9"/>
<path d="M176.1 865.4 C178.3 866.3 183.7 869.0 189.3 870.7 C195.0 872.5 206.6 875.0 210.0 875.9"/>
<path d="M195.0 870.2 C198.8 870.7 210.4 872.2 218.1 873.1 C225.8 874.0 237.3 875.4 241.1 875.9"/>
</g>
<text transform="translate(954.43 667.5) scale(1 1.016)" font-size="25.37" fill="#111" >Spațiere</text>
<line x1="864" y1="692" x2="1117" y2="692" class="w"/>
<line x1="886.3" y1="692" x2="886.3" y2="759.80" class="w"/>
<line x1="886.3" y1="705.50" x2="877.10" y2="714.50" class="b"/>
<rect x="871.10" y="715.20" width="6.4" height="4.2" rx="1.7" transform="rotate(135 874.30 717.30)" class="led"/>
<line x1="886.3" y1="730.90" x2="895.30" y2="739.90" class="b"/>
<rect x="894.90" y="740.60" width="6.4" height="4.2" rx="1.7" transform="rotate(45 898.10 742.70)" class="led"/>
<line x1="886.3" y1="759.10" x2="877.10" y2="768.10" class="b"/>
<rect x="871.10" y="768.80" width="6.4" height="4.2" rx="1.7" transform="rotate(135 874.30 770.90)" class="led"/>
<line x1="926.3" y1="692" x2="926.3" y2="814.20" class="w"/>
<line x1="926.3" y1="730.90" x2="935.30" y2="739.90" class="b"/>
<rect x="934.90" y="740.60" width="6.4" height="4.2" rx="1.7" transform="rotate(45 938.10 742.70)" class="led"/>
<line x1="926.3" y1="759.10" x2="917.10" y2="768.10" class="b"/>
<rect x="911.10" y="768.80" width="6.4" height="4.2" rx="1.7" transform="rotate(135 914.30 770.90)" class="led"/>
<line x1="926.3" y1="788.10" x2="935.30" y2="797.10" class="b"/>
<rect x="934.90" y="797.80" width="6.4" height="4.2" rx="1.7" transform="rotate(45 938.10 799.90)" class="led"/>
<line x1="926.3" y1="813.50" x2="917.10" y2="822.50" class="b"/>
<rect x="911.10" y="823.20" width="6.4" height="4.2" rx="1.7" transform="rotate(135 914.30 825.30)" class="led"/>
<line x1="970.7" y1="692" x2="970.7" y2="924.40" class="w"/>
<line x1="970.7" y1="705.50" x2="961.50" y2="714.50" class="b"/>
<rect x="955.50" y="715.20" width="6.4" height="4.2" rx="1.7" transform="rotate(135 958.70 717.30)" class="led"/>
<line x1="970.7" y1="730.90" x2="979.70" y2="739.90" class="b"/>
<rect x="979.30" y="740.60" width="6.4" height="4.2" rx="1.7" transform="rotate(45 982.50 742.70)" class="led"/>
<line x1="970.7" y1="759.10" x2="961.50" y2="768.10" class="b"/>
<rect x="955.50" y="768.80" width="6.4" height="4.2" rx="1.7" transform="rotate(135 958.70 770.90)" class="led"/>
<line x1="970.7" y1="788.10" x2="979.70" y2="797.10" class="b"/>
<rect x="979.30" y="797.80" width="6.4" height="4.2" rx="1.7" transform="rotate(45 982.50 799.90)" class="led"/>
<line x1="970.7" y1="813.50" x2="961.50" y2="822.50" class="b"/>
<rect x="955.50" y="823.20" width="6.4" height="4.2" rx="1.7" transform="rotate(135 958.70 825.30)" class="led"/>
<line x1="970.7" y1="841.20" x2="979.70" y2="850.20" class="b"/>
<rect x="979.30" y="850.90" width="6.4" height="4.2" rx="1.7" transform="rotate(45 982.50 853.00)" class="led"/>
<line x1="970.7" y1="870.20" x2="961.50" y2="879.20" class="b"/>
<rect x="955.50" y="879.90" width="6.4" height="4.2" rx="1.7" transform="rotate(135 958.70 882.00)" class="led"/>
<line x1="970.7" y1="896.00" x2="979.70" y2="905.00" class="b"/>
<rect x="979.30" y="905.70" width="6.4" height="4.2" rx="1.7" transform="rotate(45 982.50 907.80)" class="led"/>
<line x1="970.7" y1="923.70" x2="961.50" y2="932.70" class="b"/>
<rect x="955.50" y="933.40" width="6.4" height="4.2" rx="1.7" transform="rotate(135 958.70 935.50)" class="led"/>
<line x1="1010.8" y1="692" x2="1010.8" y2="759.80" class="w"/>
<line x1="1010.8" y1="705.50" x2="1001.60" y2="714.50" class="b"/>
<rect x="995.60" y="715.20" width="6.4" height="4.2" rx="1.7" transform="rotate(135 998.80 717.30)" class="led"/>
<line x1="1010.8" y1="730.90" x2="1019.80" y2="739.90" class="b"/>
<rect x="1019.40" y="740.60" width="6.4" height="4.2" rx="1.7" transform="rotate(45 1022.60 742.70)" class="led"/>
<line x1="1010.8" y1="759.10" x2="1001.60" y2="768.10" class="b"/>
<rect x="995.60" y="768.80" width="6.4" height="4.2" rx="1.7" transform="rotate(135 998.80 770.90)" class="led"/>
<line x1="1050.5" y1="692" x2="1050.5" y2="814.20" class="w"/>
<line x1="1050.5" y1="730.90" x2="1059.50" y2="739.90" class="b"/>
<rect x="1059.10" y="740.60" width="6.4" height="4.2" rx="1.7" transform="rotate(45 1062.30 742.70)" class="led"/>
<line x1="1050.5" y1="759.10" x2="1041.30" y2="768.10" class="b"/>
<rect x="1035.30" y="768.80" width="6.4" height="4.2" rx="1.7" transform="rotate(135 1038.50 770.90)" class="led"/>
<line x1="1050.5" y1="788.10" x2="1059.50" y2="797.10" class="b"/>
<rect x="1059.10" y="797.80" width="6.4" height="4.2" rx="1.7" transform="rotate(45 1062.30 799.90)" class="led"/>
<line x1="1050.5" y1="813.50" x2="1041.30" y2="822.50" class="b"/>
<rect x="1035.30" y="823.20" width="6.4" height="4.2" rx="1.7" transform="rotate(135 1038.50 825.30)" class="led"/>
<line x1="1095.0" y1="692" x2="1095.0" y2="924.40" class="w"/>
<line x1="1095.0" y1="705.50" x2="1085.80" y2="714.50" class="b"/>
<rect x="1079.80" y="715.20" width="6.4" height="4.2" rx="1.7" transform="rotate(135 1083.00 717.30)" class="led"/>
<line x1="1095.0" y1="730.90" x2="1104.00" y2="739.90" class="b"/>
<rect x="1103.60" y="740.60" width="6.4" height="4.2" rx="1.7" transform="rotate(45 1106.80 742.70)" class="led"/>
<line x1="1095.0" y1="759.10" x2="1085.80" y2="768.10" class="b"/>
<rect x="1079.80" y="768.80" width="6.4" height="4.2" rx="1.7" transform="rotate(135 1083.00 770.90)" class="led"/>
<line x1="1095.0" y1="788.10" x2="1104.00" y2="797.10" class="b"/>
<rect x="1103.60" y="797.80" width="6.4" height="4.2" rx="1.7" transform="rotate(45 1106.80 799.90)" class="led"/>
<line x1="1095.0" y1="813.50" x2="1085.80" y2="822.50" class="b"/>
<rect x="1079.80" y="823.20" width="6.4" height="4.2" rx="1.7" transform="rotate(135 1083.00 825.30)" class="led"/>
<line x1="1095.0" y1="841.20" x2="1104.00" y2="850.20" class="b"/>
<rect x="1103.60" y="850.90" width="6.4" height="4.2" rx="1.7" transform="rotate(45 1106.80 853.00)" class="led"/>
<line x1="1095.0" y1="870.20" x2="1085.80" y2="879.20" class="b"/>
<rect x="1079.80" y="879.90" width="6.4" height="4.2" rx="1.7" transform="rotate(135 1083.00 882.00)" class="led"/>
<line x1="1095.0" y1="896.00" x2="1104.00" y2="905.00" class="b"/>
<rect x="1103.60" y="905.70" width="6.4" height="4.2" rx="1.7" transform="rotate(45 1106.80 907.80)" class="led"/>
<line x1="1095.0" y1="923.70" x2="1085.80" y2="932.70" class="b"/>
<rect x="1079.80" y="933.40" width="6.4" height="4.2" rx="1.7" transform="rotate(135 1083.00 935.50)" class="led"/>
<polyline points="885,733.6 756.5,751.1 885,757.8" class="t"/>
<text transform="translate(714.85 754) scale(1 0.97)" font-size="16.25" fill="#111" >9cm</text>
<path d="M1130.6 698.2 L1124.3 704.5 L1128.3 704.5 L1128.3 930.5 L1124.3 930.5 L1130.6 936.8 L1136.8999999999999 930.5 L1132.8999999999999 930.5 L1132.8999999999999 704.5 L1136.8999999999999 704.5 Z" fill="#111" stroke="#111" stroke-width="0.8" stroke-linejoin="round"/>
<text transform="translate(1147.35 814.7) scale(1 0.99)" font-size="16.19" fill="#111" >0,7m</text>
<path d="M1014.1 868.8 L1020.4 863.5 L1020.4 866.6999999999999 L1044.4 866.6999999999999 L1044.4 863.5 L1050.7 868.8 L1044.4 874.0999999999999 L1044.4 870.9 L1020.4 870.9 L1020.4 874.0999999999999 Z" fill="#111" stroke="#111" stroke-width="0.8" stroke-linejoin="round"/>
<text x="1013.91" y="893.1" font-size="15.71" fill="#111" >16cm</text>
<text transform="translate(128.99 989.9) scale(1 1.05)" font-size="25.38" fill="#111" >*Dimensiunile produsului sunt aproximative și variază din cauza îndoiturilor din cablu.</text>
</svg></body></html>
